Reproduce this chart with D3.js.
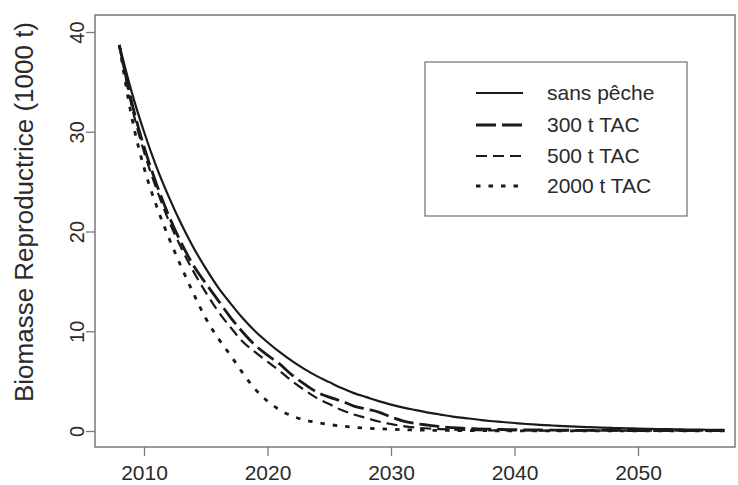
<!DOCTYPE html>
<html><head><meta charset="utf-8">
<script src="https://cdn.jsdelivr.net/npm/d3@7"></script>
<style>body{margin:0;background:#fff}svg{display:block}</style>
</head><body>
<script>
const years = d3.range(2008, 2058);
const sansPeche = [38.7,34.0,30.0,26.5,23.5,20.8,18.4,16.3,14.4,12.8,11.3,10.0,8.9,7.9,7.0,6.2,5.5,4.9,4.3,3.8,3.4,3.0,2.65,2.35,2.1,1.85,1.65,1.45,1.3,1.15,1.0,0.9,0.8,0.7,0.62,0.55,0.49,0.43,0.38,0.34,0.3,0.27,0.24,0.21,0.19,0.17,0.15,0.13,0.12,0.11];
const tac300 = [38.7,33.0,28.5,24.8,21.6,18.9,16.6,14.8,13.1,11.4,9.9,8.6,7.6,6.7,5.6,4.7,3.9,3.4,3.0,2.5,2.2,1.9,1.4,1.0,0.75,0.58,0.42,0.33,0.27,0.22,0.18,0.15,0.13,0.11,0.1,0.09,0.08,0.07,0.07,0.06,0.06,0.05,0.05,0.05,0.05,0.04,0.04,0.04,0.04,0.04];
const tac500 = [38.7,32.6,28.0,24.3,21.1,18.4,16.0,13.9,12.0,10.4,8.95,7.9,6.95,6.0,5.0,4.1,3.3,2.7,2.1,1.65,1.3,0.95,0.7,0.48,0.34,0.25,0.19,0.15,0.11,0.09,0.07,0.06,0.05,0.05,0.04,0.04,0.04,0.03,0.03,0.03,0.03,0.03,0.03,0.03,0.03,0.03,0.03,0.03,0.03,0.03];
const tac2000 = [38.7,31.5,26.4,22.6,19.4,16.5,13.8,11.3,9.3,7.6,5.8,4.2,3.0,2.1,1.5,1.1,0.85,0.65,0.5,0.38,0.28,0.22,0.17,0.13,0.1,0.08,0.06,0.05,0.04,0.03,0.03,0.02,0.02,0.02,0.02,0.02,0.02,0.02,0.02,0.02,0.02,0.02,0.02,0.02,0.02,0.02,0.02,0.02,0.02,0.02];
const seriesNames = ["sans pêche","300 t TAC","500 t TAC","2000 t TAC"];
const xTicks = [2010,2020,2030,2040,2050];
const yTicks = [0,10,20,30,40];

const series = [
  {name: seriesNames[0], values: sansPeche, dash: null, w: 2.2},
  {name: seriesNames[1], values: tac300, dash: "20,6", w: 2.8},
  {name: seriesNames[2], values: tac500, dash: "11,6", w: 2.2},
  {name: seriesNames[3], values: tac2000, dash: "4.5,8", w: 2.8}
];

const W = 738, H = 485;
const svg = d3.select("body").append("svg").attr("width", W).attr("height", H);
const font = "'Liberation Sans', Arial, sans-serif";
const ink = "#1c1a19";
const grey = "#7a7a7a";

const x = d3.scaleLinear().domain([2010, 2050]).range([144, 638]);
const y = d3.scaleLinear().domain([0, 40]).range([431, 32]);
const pL = 95, pR = 735, pT = 15, pB = 447;

svg.append("rect").attr("x", pL).attr("y", pT).attr("width", pR-pL).attr("height", pB-pT)
  .attr("fill", "none").attr("stroke", grey).attr("stroke-width", 1.5);

const xa = svg.append("g").attr("transform", `translate(0,${pB})`)
  .call(d3.axisBottom(x).tickValues(xTicks).tickFormat(d3.format("d")).tickSize(9).tickSizeOuter(0));
xa.select(".domain").remove();
xa.selectAll("line").attr("stroke", grey).attr("stroke-width", 1.3);
xa.selectAll("text").attr("font-family", font).attr("font-size", 21).attr("fill", "#2a2a2a").attr("dy", "1.0em");

const ya = svg.append("g").attr("transform", `translate(${pL},0)`)
  .call(d3.axisLeft(y).tickValues(yTicks).tickSize(9).tickSizeOuter(0).tickFormat(""));
ya.select(".domain").remove();
ya.selectAll("line").attr("stroke", grey).attr("stroke-width", 1.3);
ya.selectAll(".tick").append("text")
  .attr("transform", "translate(-11,0) rotate(-90)")
  .attr("text-anchor", "middle").attr("font-family", font).attr("font-size", 20).attr("fill", "#2a2a2a")
  .text(d => d);

svg.append("text").attr("transform", `translate(33,212) rotate(-90)`)
  .attr("text-anchor", "middle").attr("font-family", font).attr("font-size", 26).attr("fill", "#2a2a2a")
  .text("Biomasse Reproductrice (1000 t)");

const line = d3.line().x((d,i) => x(years[i])).y(d => y(d)).curve(d3.curveMonotoneX);
series.forEach(s => {
  svg.append("path").datum(s.values).attr("d", line).attr("fill", "none")
    .attr("stroke", ink).attr("stroke-width", s.w).attr("stroke-dasharray", s.dash);
});

const lg = svg.append("g");
lg.append("rect").attr("x", 425).attr("y", 62).attr("width", 262).attr("height", 154)
  .attr("fill", "#fff").attr("stroke", grey).attr("stroke-width", 1.3);
series.forEach((s, i) => {
  const yy = [93, 125, 156, 186][i];
  lg.append("line").attr("x1", 476).attr("x2", 523).attr("y1", yy).attr("y2", yy)
    .attr("stroke", ink).attr("stroke-width", s.w).attr("stroke-dasharray", s.dash);
  lg.append("text").attr("x", 547).attr("y", yy).attr("dy", "0.35em")
    .attr("font-family", font).attr("font-size", 21).attr("fill", "#2a2a2a").text(s.name);
});
</script>
</body></html>
